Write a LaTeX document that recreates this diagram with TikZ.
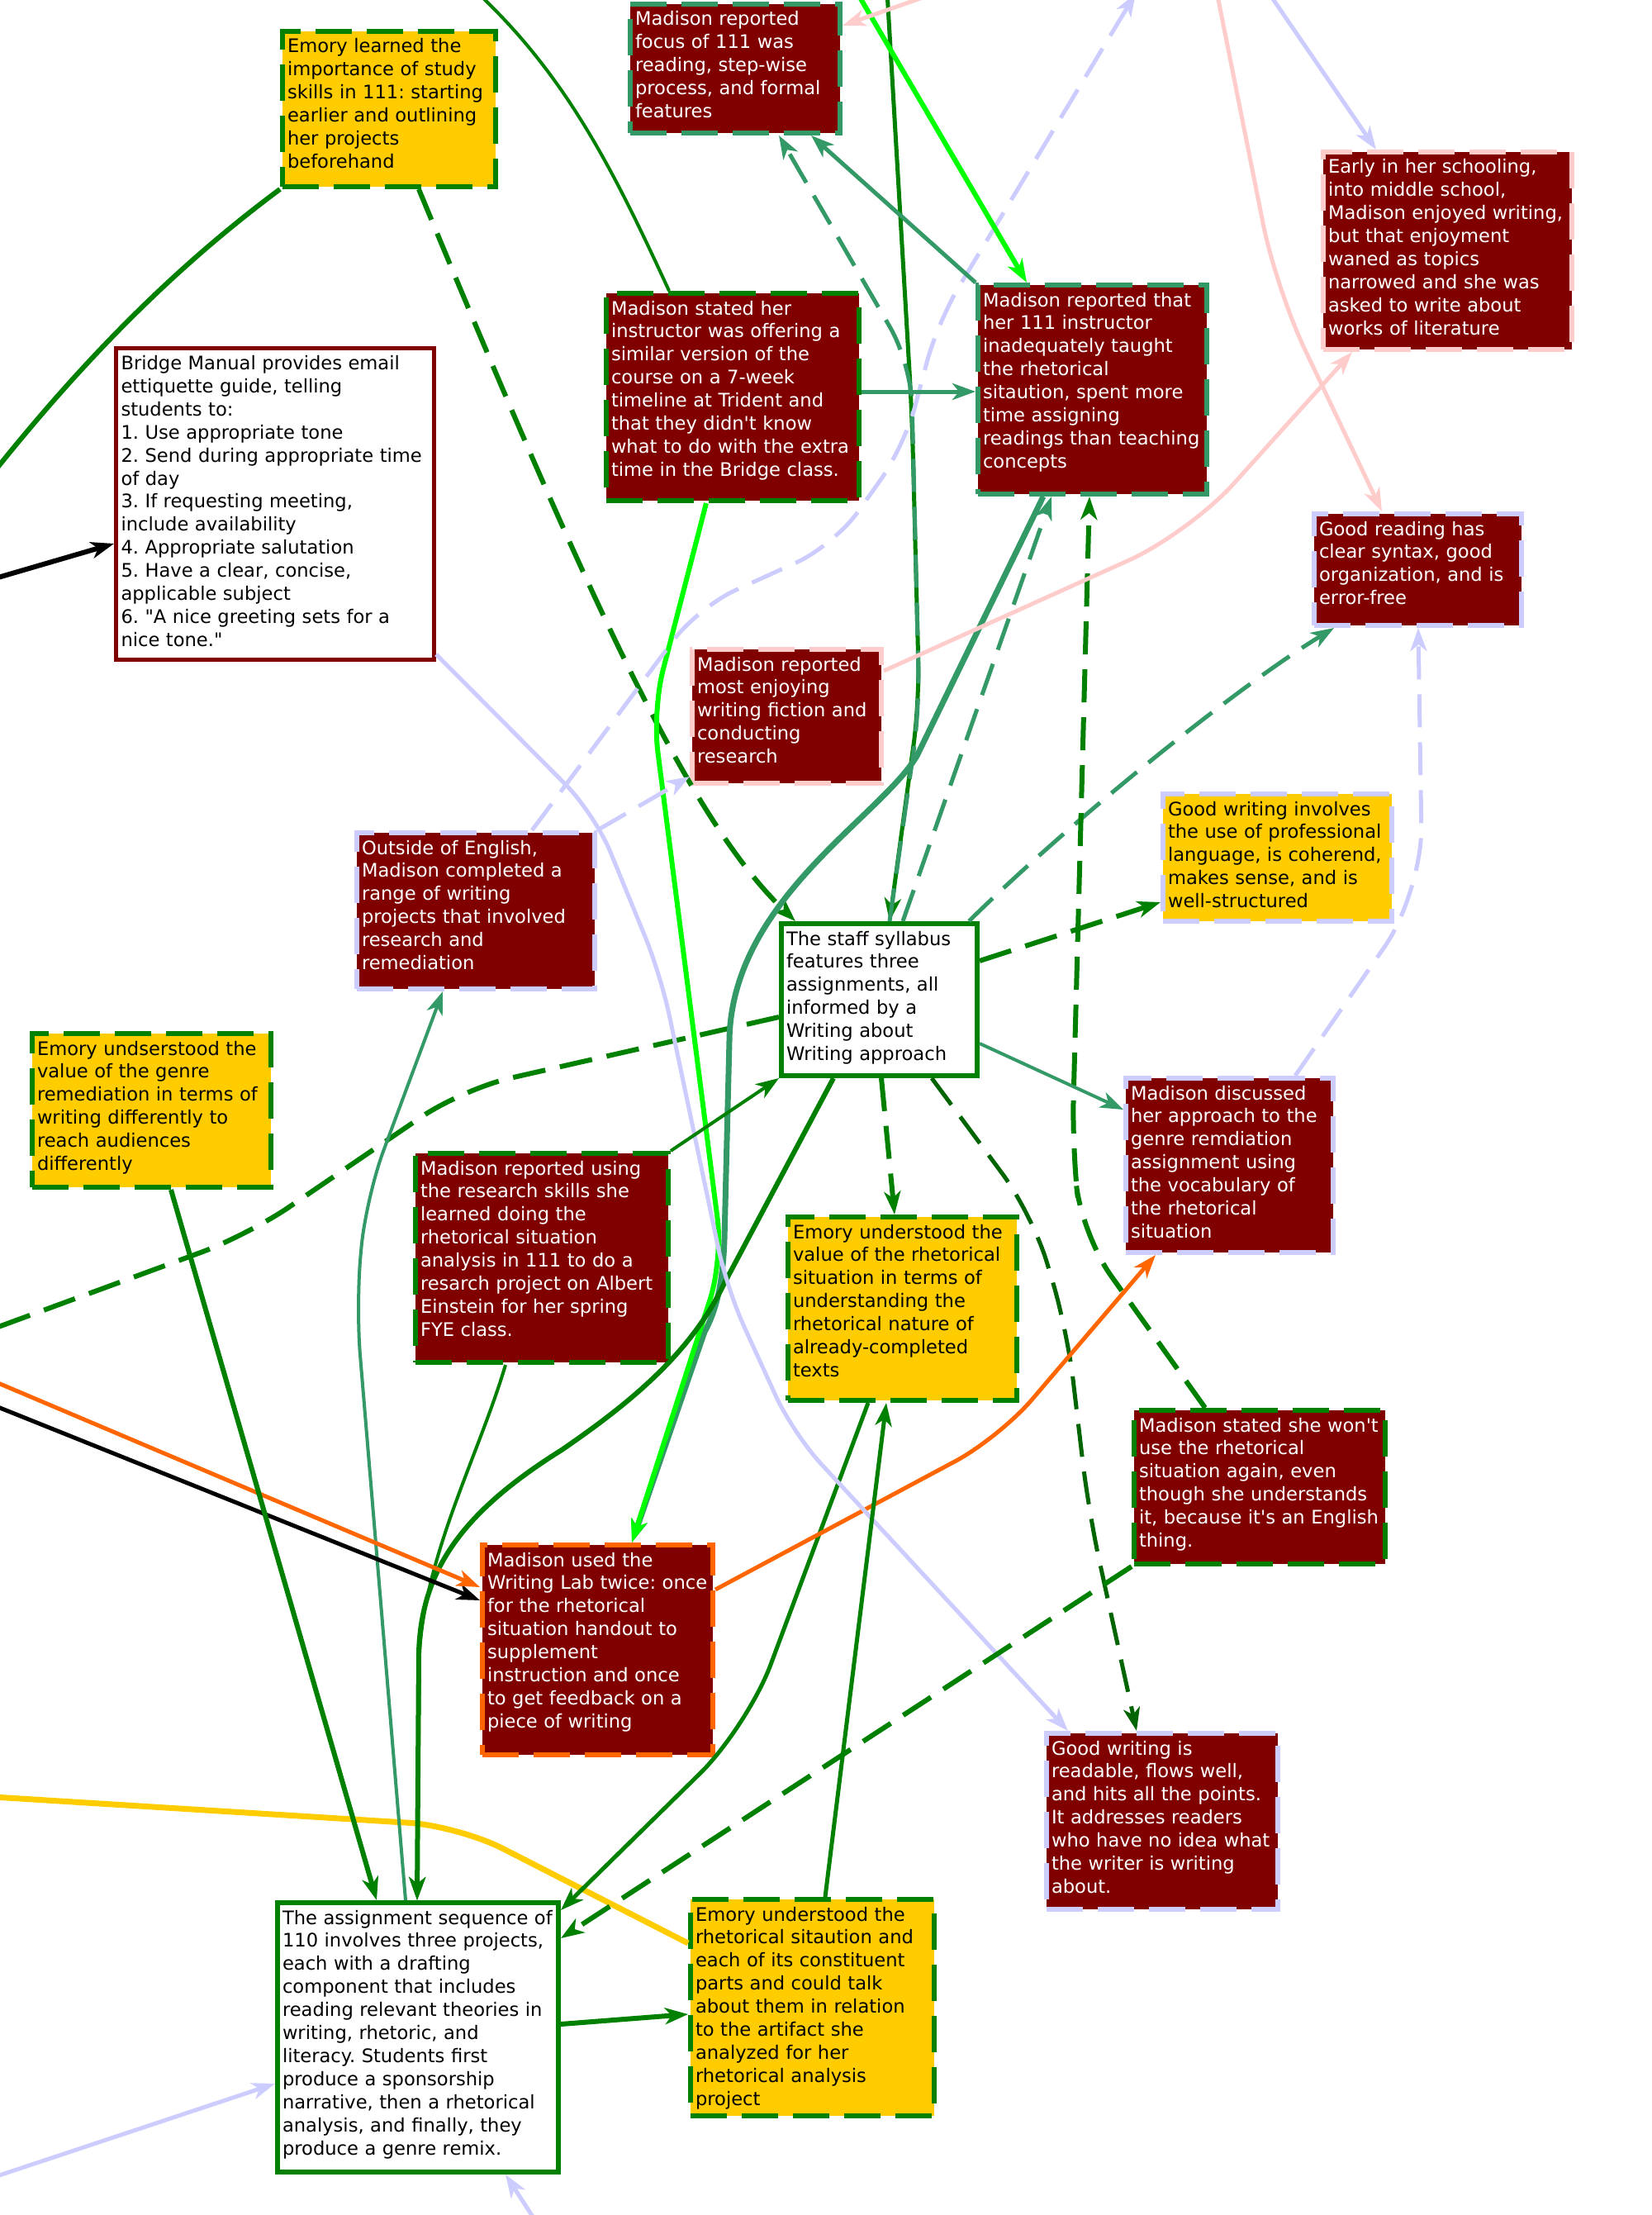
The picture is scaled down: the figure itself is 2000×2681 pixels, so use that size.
\documentclass[tikz,border=0pt]{standalone}
\usepackage{fontspec}
\setmainfont{DejaVu Sans}[Ligatures=TeXOff]
\usetikzlibrary{arrows.meta, positioning}

\definecolor{maroonfill}{RGB}{128,0,0}
\definecolor{dgreen}{RGB}{0,128,0}
\definecolor{ddgreen}{RGB}{0,100,0}
\definecolor{seagrn}{RGB}{51,153,102}
\definecolor{limegrn}{RGB}{0,255,0}
\definecolor{lav}{RGB}{204,204,255}
\definecolor{pinkish}{RGB}{255,204,204}
\definecolor{orng}{RGB}{255,102,0}
\definecolor{gold}{RGB}{255,204,0}

\newcommand{\lns}[1]{\begin{tabular}[t]{@{}l@{}}#1\end{tabular}}
\frenchspacing

\begin{document}
\begin{tikzpicture}[x=0.5pt,y=-0.5pt,>={Stealth[length=14pt,width=10pt,inset=4pt]},
  box/.style={anchor=north west, align=left, inner xsep=3pt, inner ysep=3pt,
    font=\fontsize{11.3pt}{13.95pt}\selectfont, line width=3pt},
  wh/.style 2 args={text width=#1*0.5pt-6pt, text height=10pt, text depth=#2*0.5pt-16pt},
  wbox/.style={box, draw=#1, fill=white},
  mbox/.style={box, draw=#1, fill=maroonfill, text=white, dash pattern=on 22pt off 9pt},
  gbox/.style={box, draw=#1, fill=gold, dash pattern=on 22pt off 9pt},
  ln/.style={draw=#1, line width=2.5pt},
  dln/.style={draw=#1, line width=3pt, dash pattern=on 20pt off 9pt}]

\useasboundingbox (0,0) rectangle (2000,2681);

\node[mbox=seagrn, wh={254}{156}] (focus) at (760,2) {\lns{Madison reported\\focus of 111 was\\reading, step-wise\\process, and formal\\features}};
\node[gbox=dgreen, wh={258}{188}] (emstudy) at (339,35) {\lns{Emory learned the\\importance of study\\skills in 111: starting\\earlier and outlining\\her projects\\beforehand}};
\node[wbox=maroonfill, line width=2.5pt, wh={385}{377}] (bridge) at (138,419) {\lns{Bridge Manual provides email\\ettiquette guide, telling\\students to:\\1. Use appropriate tone\\2. Send during appropriate time\\of day\\3. If requesting meeting,\\include availability\\4. Appropriate salutation\\5. Have a clear, concise,\\applicable subject\\6. "A nice greeting sets for a\\nice tone."}};
\node[mbox=dgreen, wh={306}{251}] (trident) at (731,352) {\lns{Madison stated her\\instructor was offering a\\similar version of the\\course on a 7-week\\timeline at Trident and\\that they didn't know\\what to do with the extra\\time in the Bridge class.}};
\node[mbox=seagrn, wh={277}{253}] (inadeq) at (1181,342) {\lns{Madison reported that\\her 111 instructor\\inadequately taught\\the rhetorical\\sitaution, spent more\\time assigning\\readings than teaching\\concepts}};
\node[mbox=pinkish, wh={301}{239}] (early) at (1599,181) {\lns{Early in her schooling,\\into middle school,\\Madison enjoyed writing,\\but that enjoyment\\waned as topics\\narrowed and she was\\asked to write about\\works of literature}};
\node[mbox=lav, wh={251}{135}] (goodread) at (1588,619) {\lns{Good reading has\\clear syntax, good\\organization, and is\\error-free}};
\node[mbox=pinkish, wh={229}{162}] (enjoy) at (835,783) {\lns{Madison reported\\most enjoying\\writing fiction and\\conducting\\research}};
\node[mbox=lav, wh={288}{189}] (outside) at (429,1005) {\lns{Outside of English,\\Madison completed a\\range of writing\\projects that involved\\research and\\remediation}};
\node[wbox=dgreen, wh={237}{184}] (staff) at (943,1115) {\lns{The staff syllabus\\features three\\assignments, all\\informed by a\\Writing about\\Writing approach}};
\node[gbox=lav, wh={277}{154}] (goodwrite1) at (1405,958) {\lns{Good writing involves\\the use of professional\\language, is coherend,\\makes sense, and is\\well-structured}};
\node[gbox=dgreen, wh={289}{186}] (emgenre) at (36,1248) {\lns{Emory undserstood the\\value of the genre\\remediation in terms of\\writing differently to\\reach audiences\\differently}};
\node[mbox=dgreen, wh={306}{253}] (research) at (500,1393) {\lns{Madison reported using\\the research skills she\\learned doing the\\rhetorical situation\\analysis in 111 to do a\\resarch project on Albert\\Einstein for her spring\\FYE class.}};
\node[mbox=lav, wh={251}{211}] (discuss) at (1360,1302) {\lns{Madison discussed\\her approach to the\\genre remdiation\\assignment using\\the vocabulary of\\the rhetorical\\situation}};
\node[gbox=dgreen, wh={277}{222}] (emrhet) at (951,1470) {\lns{Emory understood the\\value of the rhetorical\\situation in terms of\\understanding the\\rhetorical nature of\\already-completed\\texts}};
\node[mbox=dgreen, wh={304}{186}] (wont) at (1370,1704) {\lns{Madison stated she won't\\use the rhetorical\\situation again, even\\though she understands\\it, because it's an English\\thing.}};
\node[mbox=orng, wh={279}{254}] (lab) at (581,1867) {\lns{Madison used the\\Writing Lab twice: once\\for the rhetorical\\situation handout to\\supplement\\instruction and once\\to get feedback on a\\piece of writing}};
\node[mbox=lav, wh={280}{213}] (goodwrite2) at (1264,2095) {\lns{Good writing is\\readable, flows well,\\and hits all the points.\\It addresses readers\\who have no idea what\\the writer is writing\\about.}};
\node[wbox=dgreen, wh={340}{326}] (seq) at (333,2300) {\lns{The assignment sequence of\\110 involves three projects,\\each with a drafting\\component that includes\\reading relevant theories in\\writing, rhetoric, and\\literacy. Students first\\produce a sponsorship\\narrative, then a rhetorical\\analysis, and finally, they\\produce a genre remix.}};
\node[gbox=dgreen, wh={295}{262}] (emartifact) at (833,2296) {\lns{Emory understood the\\rhetorical sitaution and\\each of its constituent\\parts and could talk\\about them in relation\\to the artifact she\\analyzed for her\\rhetorical analysis\\project}};

\coordinate (outA) at (-30,600);
\coordinate (outB) at (560,-25);
\coordinate (outE) at (-40,1620);
\coordinate (outI) at (-40,2173);
\coordinate (outL) at (1375,-8);
\coordinate (inC) at (1037,-10);
\coordinate (inD) at (1074,-10);
\coordinate (inF) at (-40,710);
\coordinate (inG) at (-40,1688);
\coordinate (inH) at (-40,1658);
\coordinate (inJ) at (-40,2646);
\coordinate (inK) at (656,2700);
\coordinate (inM) at (1140,-11);
\coordinate (inN) at (1473,-10);
\coordinate (inO) at (1535,-10);

\draw[ln=dgreen, line width=3pt] (emstudy.south west) .. controls (230,310) and (110,420) .. (outA);
\draw[ln=dgreen, line width=2pt] ([shift={(79,0)}]trident.north west) .. controls (740,200) and (680,80) .. (outB);
\draw[dln=dgreen, ->] ([shift={(168,0)}]emstudy.south west) .. controls (712,723) and (833,991) .. ([shift={(20,0)}]staff.north west);
\draw[dln=dgreen, rounded corners=30pt] ([shift={(0,116)}]staff.north west) -- (560,1318) -- (300,1495) -- (outE);
\draw[ln=gold, line width=3.5pt, rounded corners=30pt] ([shift={(0,56)}]emartifact.north west) -- (555,2210) -- (outI);

\draw[ln=dgreen, ->, rounded corners=25pt] (inD) -- (1104,500) -- (1113,850) -- ([shift={(134,0)}]staff.north west);
\draw[dln=seagrn, line width=2.5pt, ->, rounded corners=25pt] ([shift={(134,0)}]staff.north west) -- (1113,860) -- (1103,440) -- ([shift={(183,0)}]focus.south west);
\draw[ln=seagrn, line width=3.5pt, ->] ([shift={(82,0)}]inadeq.south west) -- (1110,915) .. controls (1065,990) and (885,1090) .. (883,1260) -- (877,1500) .. controls (875,1560) and (865,1590) .. (853,1612) -- ([shift={(184,0)}]lab.north west);
\draw[ln=limegrn, line width=3pt, ->, rounded corners=25pt] ([shift={(124,0)}]trident.south west) -- (790,860) -- (875,1525) -- ([shift={(184,0)}]lab.north west);
\draw[ln=seagrn, line width=2pt, ->, rounded corners=30pt] ([shift={(158,0)}]seq.north west) -- (431,1580) -- (443,1450) -- ([shift={(107,0)}]outside.south west);
\draw[ln=dgreen, line width=3pt, ->] ([shift={(66,0)}]staff.south west) -- (876,1555) .. controls (835,1640) and (760,1700) .. (680,1755) .. controls (560,1830) and (510,1900) .. (507,2000) -- ([shift={(172,0)}]seq.north west);
\draw[ln=dgreen, line width=2pt, ->] ([shift={(112,0)}]research.south west) .. controls (580,1760) and (515,1880) .. (508,2000) -- ([shift={(172,0)}]seq.north west);
\draw[dln=seagrn, line width=2.5pt, ->] ([shift={(-13,0)}]staff.north east) .. controls (1300,990) and (1500,830) .. ([shift={(27,0)}]goodread.south west);
\draw[dln=ddgreen, line width=2.5pt, ->, rounded corners=30pt] ([shift={(185,0)}]staff.south west) -- (1250,1470) -- (1292,1610) -- (1318,1830) -- ([shift={(112,0)}]goodwrite2.north west);
\draw[dln=dgreen, ->, rounded corners=30pt] ([shift={(89,0)}]wont.north west) -- (1310,1495) -- (1298,1390) -- ([shift={(138,0)}]inadeq.south west);
\draw[ln=dgreen, ->, rounded corners=40pt] ([shift={(100,0)}]emrhet.south west) -- (905,2090) -- ([shift={(0,12)}]seq.north east);
\draw[ln=orng, ->, rounded corners=30pt] ([shift={(0,57)}]lab.north east) -- (1210,1740) -- ([shift={(39,0)}]discuss.south west);
\draw[ln=lav, ->, rounded corners=25pt] ([shift={(0,-9)}]bridge.south east) -- (720,985) -- (800,1180) -- (880,1560) -- (960,1735) -- ([shift={(29,0)}]goodwrite2.north west);
\draw[dln=lav, line width=2.5pt, ->, rounded corners=25pt] ([shift={(215,0)}]outside.north west) -- (845,735) -- (1010,660) -- (1095,540) -- (1135,390) -- (outL);
\draw[ln=pinkish, ->, rounded corners=40pt] (inN) -- (1545,350) -- ([shift={(85,0)}]goodread.north west);
\draw[ln=pinkish, ->, rounded corners=40pt] ([shift={(0,29)}]enjoy.north east) -- (1440,645) -- ([shift={(38,0)}]early.south west);
\draw[dln=lav, line width=2.5pt, ->, rounded corners=40pt] ([shift={(208,0)}]discuss.north west) -- (1722,1080) -- ([shift={(129,0)}]goodread.south west);

\path[->]
  (inC) edge[ln=limegrn, line width=3pt] ([shift={(62,0)}]inadeq.north west)
  (inF) edge[ln=black, line width=3pt] ([shift={(0,239)}]bridge.north west)
  (inG) edge[ln=black] ([shift={(0,70)}]lab.north west)
  (inH) edge[ln=orng] ([shift={(0,54)}]lab.north west)
  (inJ) edge[ln=lav] ([shift={(0,222)}]seq.north west)
  (inK) edge[ln=lav] ([shift={(279,0)}]seq.south west)
  (inM) edge[ln=pinkish] ([shift={(0,29)}]focus.north east)
  (inO) edge[ln=lav] ([shift={(67,0)}]early.north west);

\path[->]
  ([shift={(0,122)}]trident.north east) edge[ln=seagrn] ([shift={(0,132)}]inadeq.north west)
  (inadeq.north west) edge[ln=seagrn] ([shift={(222,0)}]focus.south west)
  ([shift={(150,0)}]staff.north west) edge[dln=seagrn, line width=2.5pt] ([shift={(92,0)}]inadeq.south west)
  ([shift={(0,48)}]staff.north east) edge[dln=dgreen] ([shift={(0,-26)}]goodwrite1.south west)
  ([shift={(0,148)}]staff.north east) edge[ln=seagrn, line width=2pt] ([shift={(0,41)}]discuss.north west)
  ([shift={(124,0)}]staff.south west) edge[dln=dgreen] ([shift={(132,0)}]emrhet.north west)
  (research.north east) edge[ln=dgreen, line width=2pt] (staff.south west)
  (wont.south west) edge[dln=dgreen] ([shift={(0,46)}]seq.north east)
  ([shift={(166,0)}]emartifact.north west) edge[ln=dgreen] ([shift={(122,0)}]emrhet.south west)
  ([shift={(0,150)}]seq.north east) edge[ln=dgreen, line width=3pt] ([shift={(0,142)}]emartifact.north west)
  ([shift={(171,0)}]emgenre.south west) edge[ln=dgreen, line width=3pt] ([shift={(123,0)}]seq.north west)
  (outside.north east) edge[dln=lav, line width=2.5pt] ([shift={(0,157)}]enjoy.north west);

\end{tikzpicture}
\end{document}
